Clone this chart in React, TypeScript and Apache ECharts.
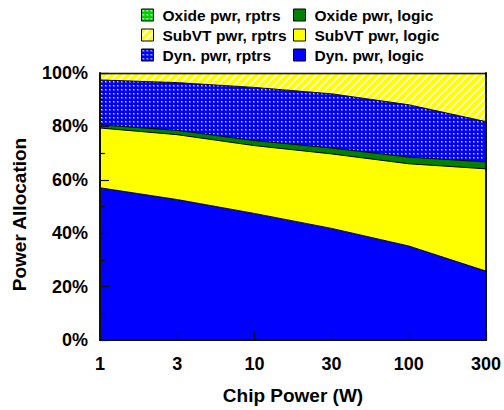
import React, { useEffect, useRef } from "react";
import * as echarts from "echarts";

const categories = ["1", "3", "10", "30", "100", "300"];
const dynLogic = [57.0, 52.6, 47.4, 41.8, 35.2, 25.8];
const subvtLogic = [22.4, 24.3, 25.4, 27.9, 30.8, 38.3];
const oxideLogic = [1.2, 1.6, 1.9, 2.2, 2.5, 2.6];
const dynRptrs = [16.8, 17.9, 19.9, 20.3, 19.6, 15.1];
const subvtRptrs = [2.3, 3.3, 5.1, 7.5, 11.6, 17.9];
const oxideRptrs = [0.3, 0.3, 0.3, 0.3, 0.3, 0.3];

const FONT = "'Liberation Sans', Arial, sans-serif";

function dotPattern(bg: string, dot: string, halo: string) {
  const c = document.createElement("canvas");
  c.width = 4;
  c.height = 4;
  const ctx = c.getContext("2d")!;
  ctx.fillStyle = bg;
  ctx.fillRect(0, 0, 4, 4);
  ctx.fillStyle = halo;
  ctx.fillRect(1, 1, 2, 2);
  ctx.fillStyle = dot;
  ctx.fillRect(1, 1, 1, 1);
  return { image: c, repeat: "repeat" };
}

function stripePattern(fg: string, bg: string) {
  const n = 8;
  const c = document.createElement("canvas");
  c.width = n;
  c.height = n;
  const ctx = c.getContext("2d")!;
  for (let y = 0; y < n; y++) {
    for (let x = 0; x < n; x++) {
      ctx.fillStyle = (x + y) % n < 5 ? fg : bg;
      ctx.fillRect(x, y, 1, 1);
    }
  }
  return { image: c, repeat: "repeat" };
}

export default function App() {
  const ref = useRef<HTMLDivElement>(null);
  useEffect(() => {
    if (!ref.current) return;
    const chart = echarts.init(ref.current, undefined, { renderer: "svg" });

    const cDynLogic = "#0000ff";
    const cSubLogic = "#ffff00";
    const cOxLogic = "#008000";
    const cDynRptrs: any = dotPattern("#0000ff", "#d8d8ff", "#5050ff");
    const cSubRptrs: any = stripePattern("#ffff00", "#ffffff");
    const cOxRptrs: any = dotPattern("#00d000", "#e8ffe8", "#60e060");

    const defs = [
      { name: "Dyn. pwr, logic", data: dynLogic, color: cDynLogic },
      { name: "SubVT pwr, logic", data: subvtLogic, color: cSubLogic },
      { name: "Oxide pwr, logic", data: oxideLogic, color: cOxLogic },
      { name: "Dyn. pwr, rptrs", data: dynRptrs, color: cDynRptrs },
      { name: "SubVT pwr, rptrs", data: subvtRptrs, color: cSubRptrs },
      { name: "Oxide pwr, rptrs", data: oxideRptrs, color: cOxRptrs },
    ];
    const colorOf = (n: string) => defs.find((d) => d.name === n)!.color;

    const legendBase = {
      orient: "vertical",
      top: 7,
      itemWidth: 12,
      itemHeight: 12,
      itemGap: 4,
      icon: "rect",
      selectedMode: false,
      padding: 0,
      itemStyle: { borderColor: "#000", borderWidth: 1 },
      textStyle: {
        fontFamily: FONT,
        fontWeight: "bold",
        fontSize: 15.5,
        lineHeight: 15,
        color: "#000",
        padding: [0, 0, 0, 4],
      },
    };
    const legItem = (n: string) => ({
      name: n,
      itemStyle: { color: colorOf(n), borderColor: "#000", borderWidth: 1 },
    });

    chart.setOption({
      animation: false,
      backgroundColor: "#fff",
      legend: [
        {
          ...legendBase,
          left: 141,
          data: ["Oxide pwr, rptrs", "SubVT pwr, rptrs", "Dyn. pwr, rptrs"].map(legItem),
        },
        {
          ...legendBase,
          left: 293,
          data: ["Oxide pwr, logic", "SubVT pwr, logic", "Dyn. pwr, logic"].map(legItem),
        },
      ],
      grid: { left: 100, right: 16, top: 73, bottom: 69 },
      xAxis: [
        {
          type: "category",
          data: categories,
          boundaryGap: false,
          name: "Chip Power (W)",
          nameLocation: "middle",
          nameGap: 46,
          nameTextStyle: { fontFamily: FONT, fontWeight: "bold", fontSize: 19, color: "#000" },
          axisLine: { show: true, lineStyle: { color: "#111", width: 2 } },
          axisTick: { show: true, inside: true, length: 9, alignWithLabel: true, lineStyle: { color: "#111", width: 1.2 } },
          axisLabel: { fontFamily: FONT, fontWeight: "bold", fontSize: 18, color: "#000", margin: 15, interval: 0 },
          splitLine: { show: false },
          z: 10,
        },
        {
          type: "category",
          data: categories,
          boundaryGap: false,
          position: "top",
          axisLine: { show: true, lineStyle: { color: "#111", width: 2 } },
          axisTick: { show: false },
          axisLabel: { show: false },
          splitLine: { show: false },
          z: 10,
        },
      ],
      yAxis: [
        {
          type: "value",
          min: 0,
          max: 100,
          interval: 20,
          name: "Power Allocation",
          nameLocation: "middle",
          nameGap: 71,
          nameTextStyle: { fontFamily: FONT, fontWeight: "bold", fontSize: 19, color: "#000", padding: [0, 16, 0, 0] },
          axisLine: { show: true, lineStyle: { color: "#111", width: 2 } },
          axisTick: { show: true, inside: true, length: 9, lineStyle: { color: "#111", width: 1.2 } },
          minorTick: { show: true, splitNumber: 2, length: 5, lineStyle: { color: "#111", width: 1.2 } },
          axisLabel: { fontFamily: FONT, fontWeight: "bold", fontSize: 18, color: "#000", margin: 12, formatter: "{value}%" },
          splitLine: { show: false },
          minorSplitLine: { show: false },
          z: 10,
        },
        {
          type: "value",
          min: 0,
          max: 100,
          interval: 20,
          position: "right",
          axisLine: { show: true, lineStyle: { color: "#111", width: 2 } },
          axisTick: { show: false },
          axisLabel: { show: false },
          splitLine: { show: false },
          z: 10,
        },
      ],
      series: defs.map((d) => ({
        name: d.name,
        type: "line",
        stack: "total",
        data: d.data,
        symbol: "none",
        showSymbol: false,
        xAxisIndex: 0,
        yAxisIndex: 0,
        itemStyle: { color: d.color },
        lineStyle: { color: "#000", width: 1 },
        areaStyle: { color: d.color, opacity: 1 },
      })),
    });
    return () => chart.dispose();
  }, []);
  return <div ref={ref} style={{ width: 504, height: 410, position: "absolute", left: 0, top: 0 }} />;
}
